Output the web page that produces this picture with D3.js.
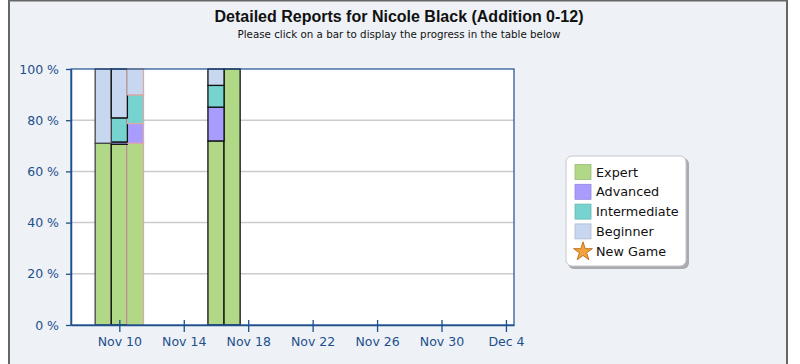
<!DOCTYPE html>
<html>
<head>
<meta charset="utf-8">
<script src="https://cdn.jsdelivr.net/npm/d3@7"></script>
<style>
  body { margin: 0; background: #fff; }
  svg { display: block; }
</style>
</head>
<body>
<div id="container"></div>
<script>
// progress per session (percent of problems at each level)
let dates = ["2010-11-09", "2010-11-10", "2010-11-11", "2010-11-16", "2010-11-17"];
let expert = [71, 70.6, 71, 71.9, 100];
let advanced = [0, 0.9, 7.7, 13.2, 0];
let intermediate = [0, 9.4, 11.2, 8.5, 0];
let beginner = [29, 19.1, 10.1, 6.4, 0];

let levels = ["Expert", "Advanced", "Intermediate", "Beginner"];
let levelColors = ["#b1d886", "#a99cff", "#76d3cf", "#c7d7f0"];
let yTicks = [0, 20, 40, 60, 80, 100];
let xTickDates = ["2010-11-10", "2010-11-14", "2010-11-18", "2010-11-22", "2010-11-26", "2010-11-30", "2010-12-04"];

let w = 800;
let h = 364;
let plot = { left: 71, right: 514, top: 69, bottom: 325 };
let blue = "#1d4f8c";

let parse = d3.timeParse("%Y-%m-%d");
let day = 24 * 3600 * 1000;

let viz = d3.select("#container")
  .append("svg")
    .attr("width", w)
    .attr("height", h)
;

// outer panel
viz.append("rect")
  .attr("x", 9).attr("y", 0.5)
  .attr("width", 778).attr("height", h + 5)
  .attr("fill", "#eef1f6")
  .attr("stroke", "#666").attr("stroke-width", 2);

viz.append("text")
  .attr("x", 399).attr("y", 22)
  .attr("text-anchor", "middle")
  .attr("font-family", "'Liberation Sans', Arial, sans-serif")
  .attr("font-weight", "bold")
  .attr("font-size", 16)
  .attr("fill", "#111")
  .text("Detailed Reports for Nicole Black (Addition 0-12)");

viz.append("text")
  .attr("x", 399).attr("y", 38)
  .attr("text-anchor", "middle")
  .attr("font-family", "'DejaVu Sans', Verdana, sans-serif")
  .attr("font-size", 10.3)
  .attr("fill", "#111")
  .text("Please click on a bar to display the progress in the table below");

let xScale = d3.scaleTime()
  .domain([parse("2010-11-07"), new Date(+parse("2010-12-04") + day / 2)])
  .range([plot.left, plot.right]);
let yScale = d3.scaleLinear().domain([0, 100]).range([plot.bottom, plot.top]);

// plot background
viz.append("rect")
  .attr("x", plot.left).attr("y", plot.top)
  .attr("width", plot.right - plot.left).attr("height", plot.bottom - plot.top)
  .attr("fill", "#fff");

// gridlines
viz.append("g").selectAll("line")
  .data(yTicks.filter(d => d > 0 && d < 100))
  .join("line")
    .attr("x1", plot.left).attr("x2", plot.right)
    .attr("y1", d => yScale(d)).attr("y2", d => yScale(d))
    .attr("stroke", "#cccccc").attr("stroke-width", 1.5);

// stacked bars
let rows = dates.map(function(d, i){
  return { date: parse(d), Expert: expert[i], Advanced: advanced[i], Intermediate: intermediate[i], Beginner: beginner[i] };
});
let stacked = d3.stack().keys(levels)(rows);
let barStroke = ["#444", "#111", "#d8aaa8", "#111", "#111"];

let barGroup = viz.append("g");
stacked.forEach(function(layer, li){
  barGroup.append("g").selectAll("rect")
    .data(layer.filter(d => d[1] - d[0] > 0))
    .join("rect")
      .attr("x", d => xScale(new Date(+d.data.date - day / 2)))
      .attr("width", d => xScale(new Date(+d.data.date + day / 2)) - xScale(new Date(+d.data.date - day / 2)))
      .attr("y", d => yScale(d[1]))
      .attr("height", d => yScale(d[0]) - yScale(d[1]))
      .attr("fill", levelColors[li])
      .attr("stroke", d => barStroke[rows.indexOf(d.data)])
      .attr("stroke-width", 1.3);
});

// plot frame
viz.append("rect")
  .attr("x", plot.left).attr("y", plot.top)
  .attr("width", plot.right - plot.left).attr("height", plot.bottom - plot.top)
  .attr("fill", "none")
  .attr("stroke", blue).attr("stroke-width", 1.2);

// axes
let yAxis = d3.axisLeft(yScale).tickValues(yTicks).tickSize(5).tickSizeOuter(0).tickPadding(7)
  .tickFormat(d => d + " %");
let yAxisGroup = viz.append("g")
  .attr("transform", "translate(" + plot.left + ",0)")
  .call(yAxis);

let xAxis = d3.axisBottom(xScale).tickValues(xTickDates.map(parse)).tickSize(7).tickSizeOuter(0).tickPadding(5)
  .tickFormat(d3.timeFormat("%b %-d"));
let xAxisGroup = viz.append("g")
  .attr("transform", "translate(0," + plot.bottom + ")")
  .call(xAxis);
xAxisGroup.selectAll(".tick line").attr("y1", -5);

[yAxisGroup, xAxisGroup].forEach(function(g){
  g.select(".domain").attr("stroke", blue).attr("stroke-width", 1.5);
  g.selectAll(".tick line").attr("stroke", blue).attr("stroke-width", 1.3);
  g.selectAll(".tick text")
    .attr("fill", blue)
    .attr("font-family", "'DejaVu Sans', Verdana, sans-serif")
    .attr("font-size", 12.5);
});

// legend
let legend = viz.append("g").attr("transform", "translate(566,156)");
legend.append("rect")
  .attr("x", 2).attr("y", 2).attr("width", 121).attr("height", 111).attr("rx", 6)
  .attr("fill", "#a9abb0");
legend.append("rect")
  .attr("x", 0).attr("y", 0).attr("width", 120).attr("height", 110).attr("rx", 6)
  .attr("fill", "#fff").attr("stroke", "#c4c6cc");

let legendItems = levels.concat(["New Game"]);
let item = legend.selectAll(".item")
  .data(legendItems)
  .join("g")
    .attr("class", "item")
    .attr("transform", (d, i) => "translate(9," + (16 + i * 19.8) + ")");

item.filter((d, i) => i < 4).append("rect")
  .attr("x", 0).attr("y", -7.5).attr("width", 16).attr("height", 15)
  .attr("fill", (d, i) => levelColors[i])
  .attr("stroke", (d, i) => d3.color(levelColors[i]).darker(0.4))
  .attr("stroke-width", 0.8);

item.filter(d => d == "New Game").append("path")
  .attr("transform", "translate(8,0.5)")
  .attr("d", d3.symbol(d3.symbolStar, 110)())
  .attr("fill", "#f2a23a")
  .attr("stroke", "#b86a1c")
  .attr("stroke-width", 0.9);

item.append("text")
  .attr("x", 21).attr("y", 4.5)
  .attr("font-family", "'DejaVu Sans', Verdana, sans-serif")
  .attr("font-size", 12.8)
  .attr("fill", "#111")
  .text(d => d);
</script>
</body>
</html>
